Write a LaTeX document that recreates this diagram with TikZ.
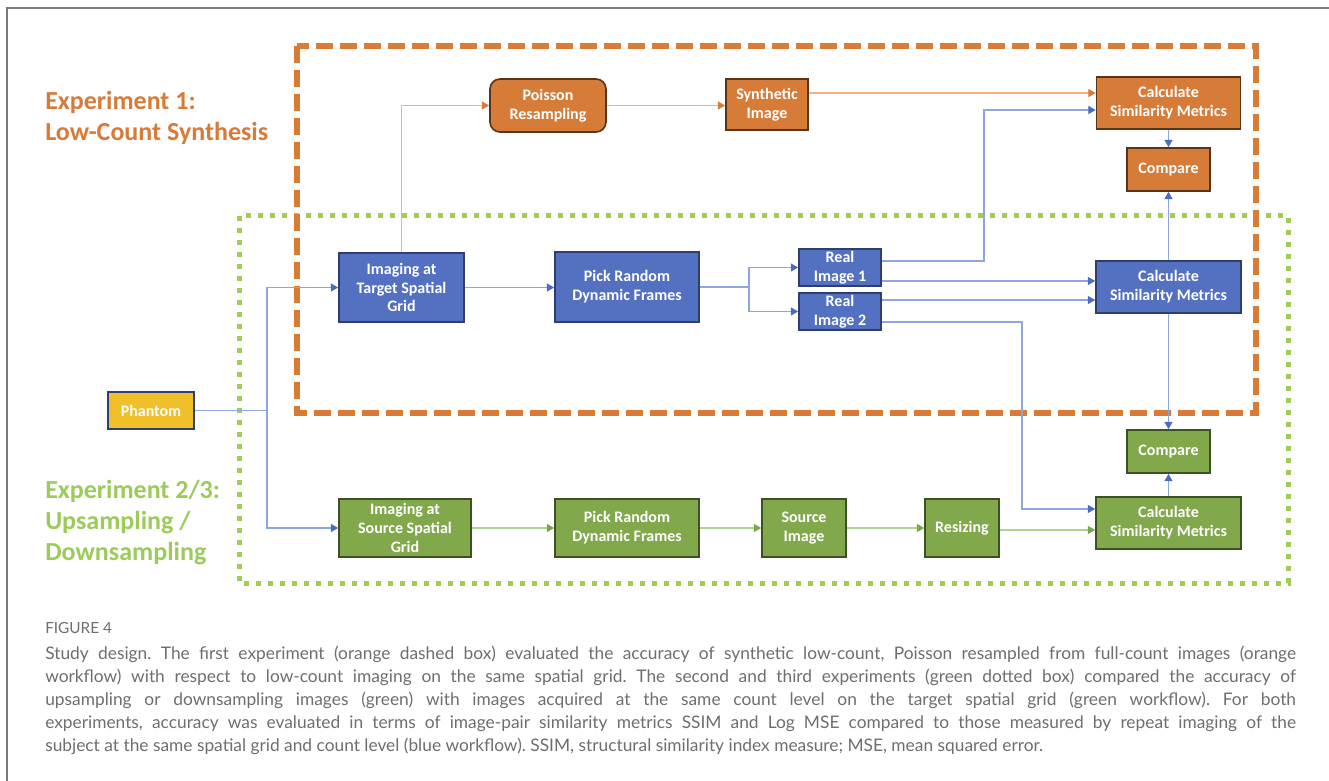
\documentclass[tikz,border=0pt]{standalone}
\usepackage{fontspec}
\setmainfont{Carlito}
\newfontfamily\capfont{Lato}
\usetikzlibrary{arrows.meta,calc}
\definecolor{bfill}{HTML}{5470C0}
\definecolor{bdraw}{HTML}{2F3E6E}
\definecolor{ofill}{HTML}{D67B38}
\definecolor{odraw}{HTML}{5A3419}
\definecolor{gfill}{HTML}{82A84C}
\definecolor{gdraw}{HTML}{3B5323}
\definecolor{yfill}{HTML}{F0C02A}
\definecolor{oline}{HTML}{F2B27F}
\definecolor{ohead}{HTML}{D97B38}
\definecolor{bline}{HTML}{8EA6DD}
\definecolor{bhead}{HTML}{4A6CC4}
\definecolor{gline}{HTML}{B0D292}
\definecolor{ghead}{HTML}{78A848}
\definecolor{odash}{HTML}{D87B37}
\definecolor{gdot}{HTML}{9FCD55}
\definecolor{exporange}{HTML}{D97B38}
\definecolor{expgreen}{HTML}{9DCB5B}
\definecolor{capgray}{HTML}{6D6E71}
\definecolor{framegray}{HTML}{7A7A7A}
\begin{document}
\begin{tikzpicture}[x=0.75pt,y=-0.75pt,
  box/.style={draw, line width=1.2pt, inner sep=0pt, align=center, text=white,
    font=\bfseries\fontsize{12}{14.2}\selectfont},
  bbox/.style={box, fill=bfill, draw=bdraw},
  obox/.style={box, fill=ofill, draw=odraw},
  gbox/.style={box, fill=gfill, draw=gdraw},
  ybox/.style={box, fill=yfill, draw=bdraw},
  sz/.style 2 args={minimum width=#1pt, minimum height=#2pt},
  bwire/.style={draw=bline, line width=0.9pt},
  bconn/.style={bwire, -{Triangle[length=5.5pt,width=6pt,color=bhead]}},
  owire/.style={draw=oline, line width=0.9pt},
  oconn/.style={owire, -{Triangle[length=5.5pt,width=6pt,color=ohead]}},
  gwire/.style={draw=gline, line width=0.9pt},
  gconn/.style={gwire, -{Triangle[length=5.5pt,width=6pt,color=ghead]}},
  explabel/.style={inner sep=0pt, align=left, anchor=west,
    font=\bfseries\fontsize{19.5}{23.25}\selectfont}
]
\useasboundingbox (0,0) rectangle (1329,781);
\fill[white] (0,0) rectangle (1329,781);
\draw[framegray, line width=1pt] (7,781) -- (7,8) -- (1329,8);

% experiment boxes
\draw[gdot, line width=3.75pt, dash pattern=on 3.75pt off 5.25pt] (239,216) rectangle (1288,583);
\draw[odash, line width=4.5pt, dash pattern=on 12.75pt off 5.25pt] (297,46) rectangle (1256,413);

\node[explabel, text=exporange] (exp1) at (45,118) {Experiment 1:\\Low-Count Synthesis};
\node[explabel, text=expgreen] (exp2) at (45,523) {Experiment 2/3:\\Upsampling /\\Downsampling};

% nodes
\node[ybox, sz={64.5}{27.75}] (phantom) at (151,410.5) {Phantom};
\node[bbox, sz={93.75}{51.75}] (tgt) at (401.5,287.5) {Imaging at\\Target Spatial\\Grid};
\node[bbox, sz={108}{52.5}] (pickb) at (627,287) {Pick Random\\Dynamic Frames};
\node[bbox, sz={61.5}{27.75}] (real1) at (840,267.5) {Real\\Image 1};
\node[bbox, sz={61.5}{27.75}] (real2) at (840,311.5) {Real\\Image 2};
\node[obox, sz={87}{39.75}, rounded corners=7.5pt] (poisson) at (548,105.5) {Poisson\\Resampling};
\node[obox, sz={61.5}{38.25}] (synth) at (767,104.5) {Synthetic\\Image};
\node[obox, sz={108}{39}] (calc1) at (1168.5,103) {Calculate\\Similarity Metrics};
\node[obox, sz={62.25}{32.25}] (cmp1) at (1168.5,169.5) {Compare};
\node[bbox, sz={108.75}{39}] (calc2) at (1168.5,287) {Calculate\\Similarity Metrics};
\node[gbox, sz={62.25}{32.25}] (cmp2) at (1168.5,451.5) {Compare};
\node[gbox, sz={108.75}{39}] (calc3) at (1168.5,523) {Calculate\\Similarity Metrics};
\node[gbox, sz={99}{43.5}] (srcgrid) at (405,528) {Imaging at\\Source Spatial\\Grid};
\node[gbox, sz={108}{43.5}] (pickg) at (627,528) {Pick Random\\Dynamic Frames};
\node[gbox, sz={63}{43.5}] (srcimg) at (804,528) {Source\\Image};
\node[gbox, sz={55.5}{43.5}] (resize) at (962,528) {Resizing};

% junctions
\coordinate (j1) at (267,410.5);
\coordinate (j2) at (749,287);
\coordinate (k1) at (984,110);
\coordinate (k2) at (1022,509);

% blue connectors
\draw[bwire] (phantom.east) -- (j1);
\draw[bconn] (j1) |- (tgt.west);
\draw[bconn] (j1) |- (srcgrid.west);
\draw[bconn] (tgt.east) -- (tgt.east -| pickb.west);
\draw[bwire] (pickb.east) -- (j2);
\draw[bconn] (j2) |- (real1.west);
\draw[bconn] (j2) |- (real2.west);
\draw[bconn] ([yshift=4.9pt]real1.east) -| (k1) -- (k1 -| calc1.west);
\draw[bconn] ([yshift=-10.1pt]real1.east) -- ([yshift=-10.1pt]real1.east -| calc2.west);
\draw[bconn] ([yshift=8.6pt]real2.east) -- ([yshift=8.6pt]real2.east -| calc2.west);
\draw[bconn] ([yshift=-7.9pt]real2.east) -| (k2) -- (k2 -| calc3.west);
\draw[bconn] (calc1.south) -- (cmp1.north);
\draw[bconn] (calc2.north) -- (cmp1.south);
\draw[bconn] (calc2.south) -- (cmp2.north);
\draw[bconn] (calc3.north) -- (cmp2.south);

% orange connectors
\draw[oconn] (tgt.north) |- (poisson.west);
\draw[oconn] (poisson.east) -- (poisson.east -| synth.west);
\draw[oconn] ([yshift=8.6pt]synth.east) -- ([yshift=8.6pt]synth.east -| calc1.west);

% green connectors
\draw[gconn] (srcgrid.east) -- (pickg.west);
\draw[gconn] (pickg.east) -- (srcimg.west);
\draw[gconn] (srcimg.east) -- (resize.west);
\draw[gconn] ([yshift=-1.5pt]resize.east) -- ([yshift=-1.5pt]resize.east -| calc3.west);

% caption
\node[anchor=west, inner sep=0pt, text=capgray, font=\capfont\fontsize{11.5}{13}\selectfont] (fig) at (45,628) {FIGURE 4};
\node[anchor=north west, inner sep=0pt, text=capgray, text width=938pt, align=justify,
  font=\capfont\fontsize{13}{17.25}\selectfont] (cap) at (45,646)
{\frenchspacing\emergencystretch=3em Study design. The first experiment (orange dashed box) evaluated the accuracy of synthetic low-count, Poisson resampled from full-count images (orange\linebreak
workflow) with respect to low-count imaging on the same spatial grid. The second and third experiments (green dotted box) compared the accuracy of\linebreak
upsampling or downsampling images (green) with images acquired at the same count level on the target spatial grid (green workflow). For both\linebreak
experiments, accuracy was evaluated in terms of image-pair similarity metrics SSIM and Log MSE compared to those measured by repeat imaging of the\linebreak
subject at the same spatial grid and count level (blue workflow). SSIM, structural similarity index measure; MSE, mean squared error.\par};
\end{tikzpicture}
\end{document}
